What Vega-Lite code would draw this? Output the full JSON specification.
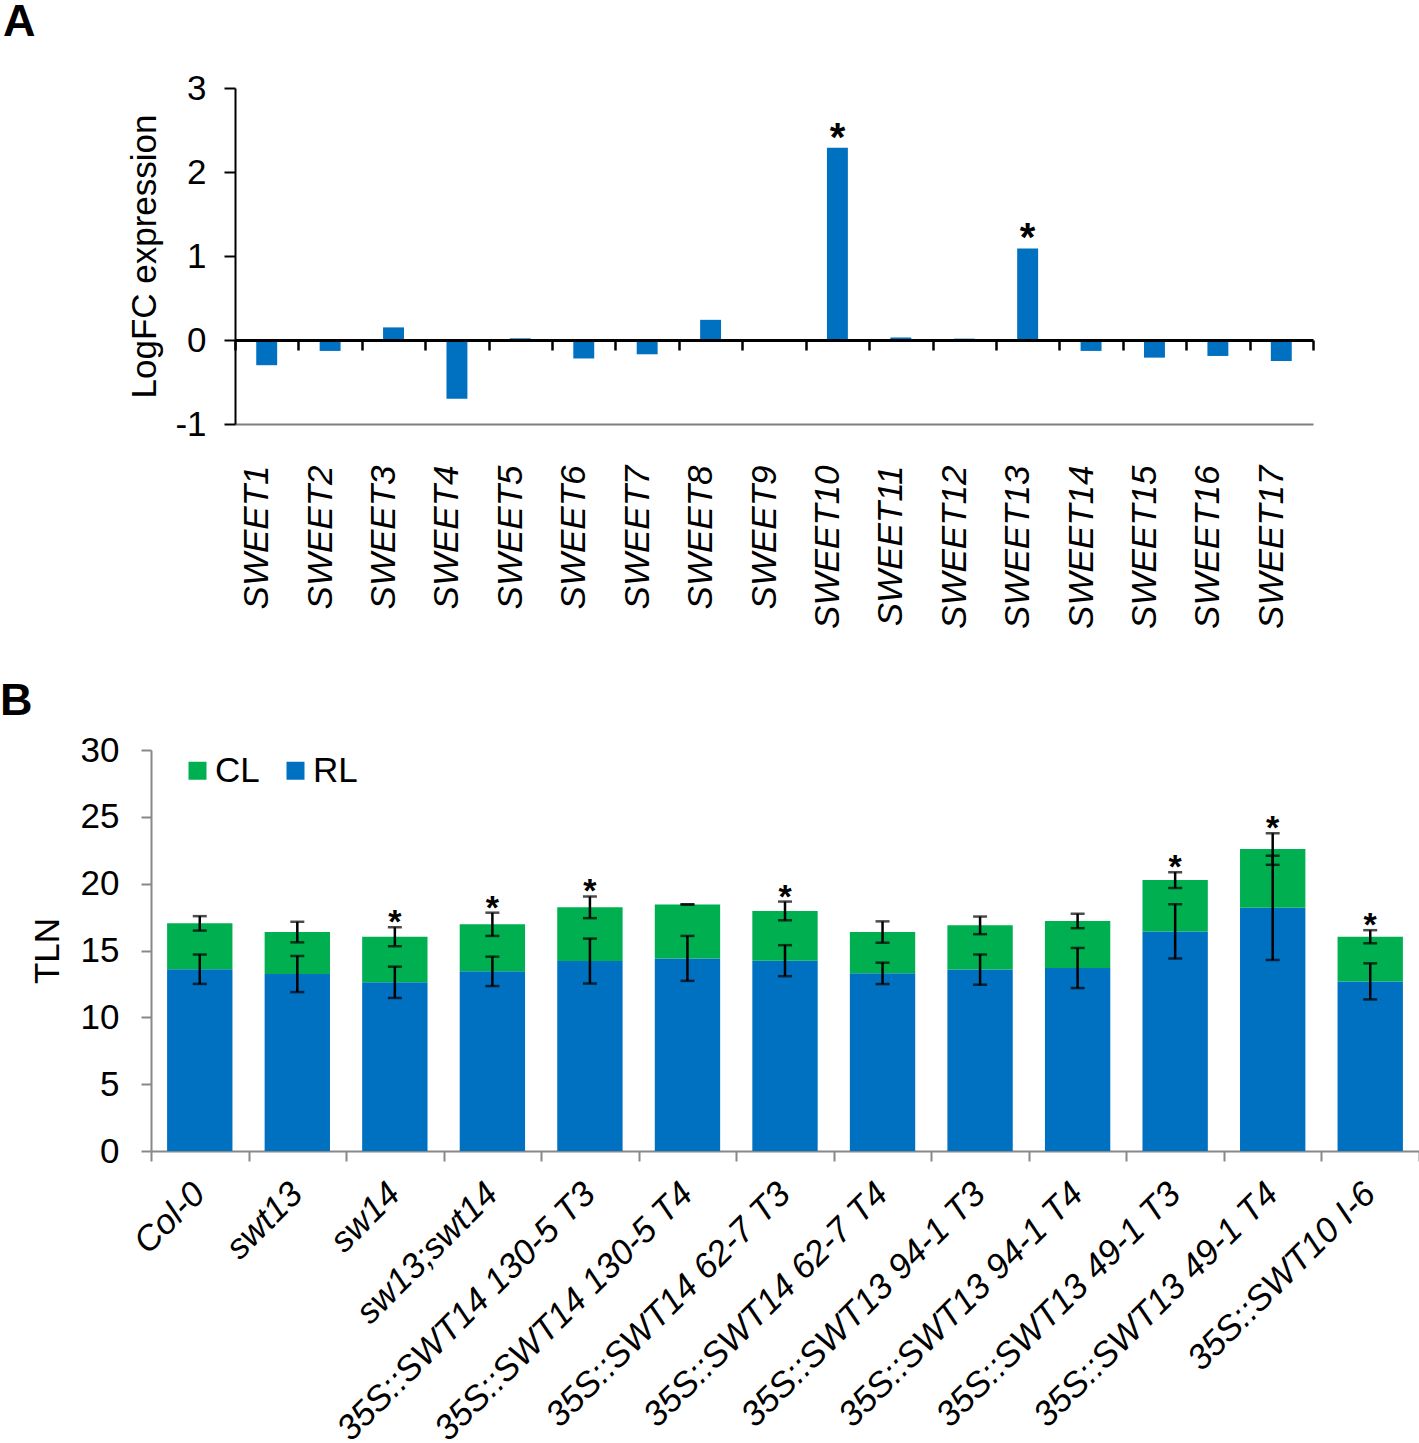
{
  "$schema": "https://vega.github.io/schema/vega-lite/v6.json",
  "padding": 0,
  "background": "white",
  "spacing": 50,
  "resolve": {"scale": {"color": "independent"}, "legend": {"color": "independent"}},
  "config": {
    "font": "Liberation Sans",
    "view": {"stroke": null},
    "axis": {"grid": false, "labelFont": "Liberation Sans", "titleFont": "Liberation Sans", "labelColor": "black", "titleColor": "black", "titleFontWeight": "normal", "labelLimit": 600},
    "legend": {"labelFont": "Liberation Sans"}
  },
  "vconcat": [
    {
      "title": {"text": "A", "anchor": "start", "frame": "bounds", "dx": -125, "offset": -19, "fontSize": 45, "fontWeight": "bold", "font": "Liberation Sans", "color": "black", "baseline": "bottom"},
      "width": 1162,
      "height": 336,
      "resolve": {"axis": {"x": "independent"}},
      "data": {"values": [
        {"gene": "SWEET1", "logfc": -0.30, "star": ""},
        {"gene": "SWEET2", "logfc": -0.13, "star": ""},
        {"gene": "SWEET3", "logfc": 0.15, "star": ""},
        {"gene": "SWEET4", "logfc": -0.70, "star": ""},
        {"gene": "SWEET5", "logfc": 0.02, "star": ""},
        {"gene": "SWEET6", "logfc": -0.22, "star": ""},
        {"gene": "SWEET7", "logfc": -0.17, "star": ""},
        {"gene": "SWEET8", "logfc": 0.24, "star": ""},
        {"gene": "SWEET9", "logfc": 0.005, "star": ""},
        {"gene": "SWEET10", "logfc": 2.29, "star": "*"},
        {"gene": "SWEET11", "logfc": 0.03, "star": ""},
        {"gene": "SWEET12", "logfc": 0.016, "star": ""},
        {"gene": "SWEET13", "logfc": 1.09, "star": "*"},
        {"gene": "SWEET14", "logfc": -0.13, "star": ""},
        {"gene": "SWEET15", "logfc": -0.21, "star": ""},
        {"gene": "SWEET16", "logfc": -0.19, "star": ""},
        {"gene": "SWEET17", "logfc": -0.25, "star": ""}
      ]},
      "layer": [
        {
          "mark": {"type": "bar", "color": "#0070C0", "width": {"band": 0.33}},
          "encoding": {
            "x": {"field": "gene", "type": "nominal", "sort": null,
              "scale": {"paddingInner": 0, "paddingOuter": 0, "range": [84, 1162]},
              "axis": {"title": null, "orient": "bottom", "offset": -84, "zindex": 1,
                "domainColor": "black", "domainWidth": 3, "tickColor": "black", "tickWidth": 2.5, "tickSize": 10,
                "tickBand": "extent", "labelAngle": -90, "labelFontSize": 35, "labelFontStyle": "italic",
                "labelPadding": 115, "labelOffset": -10, "labelAlign": "right", "labelBaseline": "middle", "labelOverlap": false}},
            "y": {"field": "logfc", "type": "quantitative",
              "scale": {"domain": [-1, 3], "nice": false, "zero": false},
              "axis": {"title": "LogFC expression", "values": [-1, 0, 1, 2, 3], "titleFontSize": 35, "labelFontSize": 35,
                "labelExpr": "replace(format(datum.value, 'd'), '\u2212', '-')", "offset": -84,
                "tickSize": 11, "tickColor": "black", "tickWidth": 2, "domainColor": "black", "domainWidth": 2,
                "labelPadding": 18, "titlePadding": 12}}
          }
        },
        {
          "mark": {"type": "text", "fontSize": 40, "fontWeight": "bold", "baseline": "alphabetic", "dy": 3, "color": "black"},
          "encoding": {
            "x": {"field": "gene", "type": "nominal", "sort": null,
              "axis": {"title": null, "orient": "bottom", "labels": false, "ticks": false, "domainColor": "#7f7f7f", "domainWidth": 2}},
            "y": {"field": "logfc", "type": "quantitative", "title": "LogFC expression"},
            "text": {"field": "star"}
          }
        }
      ]
    },
    {
      "title": {"text": "B", "anchor": "start", "frame": "bounds", "dx": -30, "offset": -36, "fontSize": 45, "fontWeight": "bold", "font": "Liberation Sans", "color": "black", "baseline": "bottom"},
      "width": 1268,
      "height": 401,
      "data": {"values": [
        {"g": "Col-0", "part": "RL", "y0": 0, "y1": 13.6, "lo": 12.5, "hi": 14.7, "star": ""},
        {"g": "Col-0", "part": "CL", "y0": 13.6, "y1": 17.03, "lo": 16.49, "hi": 17.57, "star": ""},
        {"g": "swt13", "part": "RL", "y0": 0, "y1": 13.24, "lo": 11.89, "hi": 14.59, "star": ""},
        {"g": "swt13", "part": "CL", "y0": 13.24, "y1": 16.38, "lo": 15.61, "hi": 17.15, "star": ""},
        {"g": "sw14", "part": "RL", "y0": 0, "y1": 12.62, "lo": 11.45, "hi": 13.79, "star": ""},
        {"g": "sw14", "part": "CL", "y0": 12.62, "y1": 16.03, "lo": 15.32, "hi": 16.74, "star": "*"},
        {"g": "sw13;swt14", "part": "RL", "y0": 0, "y1": 13.44, "lo": 12.34, "hi": 14.54, "star": ""},
        {"g": "sw13;swt14", "part": "CL", "y0": 13.44, "y1": 16.96, "lo": 16.09, "hi": 17.83, "star": "*"},
        {"g": "35S::SWT14 130-5 T3", "part": "RL", "y0": 0, "y1": 14.21, "lo": 12.53, "hi": 15.89, "star": ""},
        {"g": "35S::SWT14 130-5 T3", "part": "CL", "y0": 14.21, "y1": 18.23, "lo": 17.42, "hi": 19.04, "star": "*"},
        {"g": "35S::SWT14 130-5 T4", "part": "RL", "y0": 0, "y1": 14.41, "lo": 12.73, "hi": 16.09, "star": ""},
        {"g": "35S::SWT14 130-5 T4", "part": "CL", "y0": 14.41, "y1": 18.45, "lo": 18.45, "hi": 18.45, "star": ""},
        {"g": "35S::SWT14 62-7 T3", "part": "RL", "y0": 0, "y1": 14.24, "lo": 13.08, "hi": 15.4, "star": ""},
        {"g": "35S::SWT14 62-7 T3", "part": "CL", "y0": 14.24, "y1": 17.96, "lo": 17.26, "hi": 18.66, "star": "*"},
        {"g": "35S::SWT14 62-7 T4", "part": "RL", "y0": 0, "y1": 13.29, "lo": 12.49, "hi": 14.09, "star": ""},
        {"g": "35S::SWT14 62-7 T4", "part": "CL", "y0": 13.29, "y1": 16.38, "lo": 15.58, "hi": 17.18, "star": ""},
        {"g": "35S::SWT13 94-1 T3", "part": "RL", "y0": 0, "y1": 13.57, "lo": 12.44, "hi": 14.7, "star": ""},
        {"g": "35S::SWT13 94-1 T3", "part": "CL", "y0": 13.57, "y1": 16.88, "lo": 16.22, "hi": 17.54, "star": ""},
        {"g": "35S::SWT13 94-1 T4", "part": "RL", "y0": 0, "y1": 13.69, "lo": 12.19, "hi": 15.19, "star": ""},
        {"g": "35S::SWT13 94-1 T4", "part": "CL", "y0": 13.69, "y1": 17.21, "lo": 16.67, "hi": 17.75, "star": ""},
        {"g": "35S::SWT13 49-1 T3", "part": "RL", "y0": 0, "y1": 16.43, "lo": 14.4, "hi": 18.46, "star": ""},
        {"g": "35S::SWT13 49-1 T3", "part": "CL", "y0": 16.43, "y1": 20.27, "lo": 19.68, "hi": 20.86, "star": "*"},
        {"g": "35S::SWT13 49-1 T4", "part": "RL", "y0": 0, "y1": 18.2, "lo": 14.29, "hi": 22.09, "star": ""},
        {"g": "35S::SWT13 49-1 T4", "part": "CL", "y0": 18.2, "y1": 22.59, "lo": 21.41, "hi": 23.77, "star": "*"},
        {"g": "35S::SWT10 I-6", "part": "RL", "y0": 0, "y1": 12.69, "lo": 11.34, "hi": 14.04, "star": ""},
        {"g": "35S::SWT10 I-6", "part": "CL", "y0": 12.69, "y1": 16.03, "lo": 15.54, "hi": 16.52, "star": "*"}
      ]},
      "layer": [
        {
          "mark": {"type": "bar", "width": {"band": 0.67}},
          "encoding": {
            "x": {"field": "g", "type": "nominal", "sort": null,
              "scale": {"paddingInner": 0, "paddingOuter": 0},
              "axis": {"title": null, "tickBand": "extent", "tickSize": 10, "tickColor": "#888888", "tickWidth": 2,
                "domainColor": "#888888", "domainWidth": 2, "labelAngle": -45, "labelFontSize": 35,
                "labelFontStyle": "italic", "labelPadding": 15, "labelOffset": -13, "labelOverlap": false, "labelAlign": "right", "labelBaseline": "top"}},
            "y": {"field": "y1", "type": "quantitative",
              "scale": {"domain": [0, 30], "nice": false},
              "axis": {"title": "TLN", "values": [0, 5, 10, 15, 20, 25, 30], "titleFontSize": 35, "labelFontSize": 35,
                "tickSize": 10, "tickColor": "#888888", "tickWidth": 2, "domainColor": "#888888", "domainWidth": 2,
                "labelPadding": 22, "titlePadding": 15}},
            "y2": {"field": "y0"},
            "color": {"field": "part", "type": "nominal",
              "scale": {"domain": ["CL", "RL"], "range": ["#00B050", "#0070C0"]},
              "legend": {"title": null, "orient": "none", "legendX": 29, "legendY": 3, "direction": "horizontal",
                "labelFontSize": 35, "labelColor": "black", "symbolType": "square", "symbolSize": 324,
                "symbolStrokeWidth": 0, "symbolOpacity": 1, "labelOffset": 0, "columnPadding": 18, "padding": 0}}
          }
        },
        {
          "mark": {"type": "errorbar", "color": "black", "thickness": 2.5, "ticks": {"size": 14, "color": "black"}, "rule": {"color": "black"}},
          "encoding": {
            "x": {"field": "g", "type": "nominal", "sort": null},
            "y": {"field": "lo", "type": "quantitative", "title": "TLN"},
            "y2": {"field": "hi"}
          }
        },
        {
          "mark": {"type": "text", "fontSize": 34, "fontWeight": "bold", "baseline": "alphabetic", "dy": 6, "color": "black"},
          "encoding": {
            "x": {"field": "g", "type": "nominal", "sort": null},
            "y": {"field": "hi", "type": "quantitative", "title": "TLN"},
            "text": {"field": "star"}
          }
        }
      ]
    }
  ]
}
